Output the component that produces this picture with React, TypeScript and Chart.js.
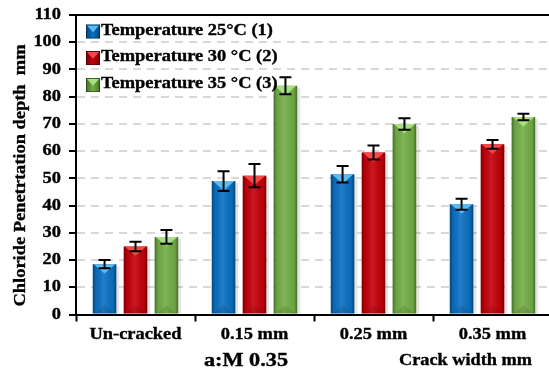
import React, { useEffect, useRef } from "react";
import { Chart, registerables } from "chart.js";

Chart.register(...registerables);

// ---- data ----
const categories = ["Un-cracked", "0.15 mm", "0.25 mm", "0.35 mm"];
const seriesLabels = ["Temperature 25°C (1)", "Temperature 30 °C (2)", "Temperature 35 °C (3)"];
const temp25 = [18.5, 49, 51.5, 40.5];
const temp30 = [25, 51, 59.5, 62.5];
const temp35 = [28.5, 84, 70, 72.5];
const err25 = [1.5, 3.6, 3, 2];
const err30 = [1.75, 4.3, 2.6, 1.6];
const err35 = [2.5, 3.1, 2.1, 1.2];
const yMin = 0;
const yMax = 110;
const yStep = 10;
const yAxisTitle = "Chloride Penetrtation depth  mm";
const xAxisNote = "a:M 0.35";
const xAxisTitle = "Crack width mm";

const baseColors = ["#0a70c2", "#c4000a", "#72ae46"];
const lightColors = ["#5cbcf2", "#f24a4a", "#a9df80"];
const darkColors = ["#05457a", "#7a0005", "#44702a"];
const errors = [err25, err30, err35];

const FONT = '"Liberation Serif"';

function drawText(
  ctx: CanvasRenderingContext2D,
  s: string,
  x: number,
  y: number,
  size: number,
  align: CanvasTextAlign,
  baseline: CanvasTextBaseline,
  sx: number,
  targetWidth?: number
) {
  ctx.save();
  ctx.font = `bold ${size}px ${FONT}`;
  ctx.fillStyle = "#000";
  ctx.strokeStyle = "#000";
  ctx.lineWidth = 0.35;
  ctx.textAlign = align;
  ctx.textBaseline = baseline;
  let scale = sx;
  if (targetWidth) {
    const w = ctx.measureText(s).width;
    scale = targetWidth / w;
  }
  ctx.translate(x, y);
  ctx.scale(scale, 1);
  ctx.fillText(s, 0, 0);
  ctx.strokeText(s, 0, 0);
  ctx.restore();
}

function drawPyramidBox(ctx: CanvasRenderingContext2D, x: number, y: number, w: number, h: number, i: number) {
  ctx.save();
  const g = ctx.createLinearGradient(x, 0, x + w, 0);
  g.addColorStop(0, darkColors[i]);
  g.addColorStop(0.5, baseColors[i]);
  g.addColorStop(1, darkColors[i]);
  ctx.fillStyle = g;
  ctx.fillRect(x, y, w, h);
  ctx.fillStyle = lightColors[i];
  ctx.beginPath();
  ctx.moveTo(x + 1, y + 1);
  ctx.lineTo(x + w - 1, y + 1);
  ctx.lineTo(x + w / 2, y + h * 0.55);
  ctx.closePath();
  ctx.fill();
  ctx.strokeStyle = "rgba(0,0,0,0.35)";
  ctx.lineWidth = 1;
  ctx.strokeRect(x + 0.5, y + 0.5, w - 1, h - 1);
  ctx.restore();
}

const decorPlugin = {
  id: "decor",
  afterDatasetsDraw(chart: any) {
    const ctx: CanvasRenderingContext2D = chart.ctx;
    const yScale = chart.scales.y;
    chart.data.datasets.forEach((ds: any, i: number) => {
      const meta = chart.getDatasetMeta(i);
      meta.data.forEach((el: any, j: number) => {
        const { x, y, base, width } = el.getProps(["x", "y", "base", "width"], true);
        const left = x - width / 2;
        const right = x + width / 2;
        ctx.save();
        ctx.fillStyle = "rgba(0,0,0,0.10)";
        ctx.fillRect(right, y + 2, 3, base - y - 2);
        const g = ctx.createLinearGradient(left, 0, right, 0);
        g.addColorStop(0, "rgba(0,0,0,0.38)");
        g.addColorStop(0.14, "rgba(0,0,0,0.06)");
        g.addColorStop(0.45, "rgba(255,255,255,0.10)");
        g.addColorStop(0.86, "rgba(0,0,0,0.06)");
        g.addColorStop(1, "rgba(0,0,0,0.38)");
        ctx.fillStyle = g;
        ctx.fillRect(left, y, width, base - y);
        ctx.fillStyle = lightColors[i];
        ctx.beginPath();
        ctx.moveTo(left + 1, y);
        ctx.lineTo(right - 1, y);
        ctx.lineTo(x, y + width * 0.4);
        ctx.closePath();
        ctx.fill();
        ctx.fillStyle = "rgba(0,0,0,0.10)";
        ctx.beginPath();
        ctx.moveTo(left + 2, base);
        ctx.lineTo(right - 2, base);
        ctx.lineTo(x, base - width * 0.35);
        ctx.closePath();
        ctx.fill();
        ctx.restore();

        const v = ds.data[j];
        const e = errors[i][j];
        const yt = yScale.getPixelForValue(v + e);
        const yb = yScale.getPixelForValue(v - e);
        ctx.save();
        ctx.strokeStyle = "#000";
        ctx.lineWidth = 2;
        ctx.beginPath();
        ctx.moveTo(x, yt);
        ctx.lineTo(x, yb);
        ctx.moveTo(x - 6, yt);
        ctx.lineTo(x + 6, yt);
        ctx.moveTo(x - 6, yb);
        ctx.lineTo(x + 6, yb);
        ctx.stroke();
        ctx.restore();
      });
    });
  },
  afterDraw(chart: any) {
    const ctx: CanvasRenderingContext2D = chart.ctx;
    const area = chart.chartArea;
    const yScale = chart.scales.y;
    const xScale = chart.scales.x;

    ctx.save();
    ctx.strokeStyle = "#000";
    ctx.lineWidth = 2;
    ctx.beginPath();
    const ty = Math.round(yScale.getPixelForValue(yMax));
    ctx.moveTo(area.left - 1, ty);
    ctx.lineTo(chart.width, ty);
    ctx.stroke();
    ctx.restore();

    yScale.ticks.forEach((t: any) => {
      const py = yScale.getPixelForValue(t.value);
      drawText(ctx, String(t.value), 61, py, 16, "right", "middle", 1.15);
    });

    categories.forEach((c, k) => {
      const px = xScale.getPixelForValue(k);
      drawText(ctx, c, px, 338.5, 16, "center", "alphabetic", 1.15);
    });

    drawText(ctx, xAxisNote, 246, 366, 19, "center", "alphabetic", 1, 84);
    drawText(ctx, xAxisTitle, 465.5, 364.5, 17, "center", "alphabetic", 1, 133);

    ctx.save();
    ctx.translate(25, 175.5);
    ctx.rotate(-Math.PI / 2);
    ctx.font = `bold 17px ${FONT}`;
    const w = ctx.measureText(yAxisTitle).width;
    ctx.scale(262 / w, 1);
    ctx.fillStyle = "#000";
    ctx.strokeStyle = "#000";
    ctx.lineWidth = 0.35;
    ctx.textAlign = "center";
    ctx.textBaseline = "alphabetic";
    ctx.fillText(yAxisTitle, 0, 0);
    ctx.strokeText(yAxisTitle, 0, 0);
    ctx.restore();

    const rows = [34.5, 61, 88];
    chart.data.datasets.forEach((ds: any, i: number) => {
      drawPyramidBox(ctx, 86, rows[i] - 10, 14, 14, i);
      drawText(ctx, ds.label, 101, rows[i], 16, "left", "alphabetic", 1.15);
    });
  },
};

export default function App() {
  const ref = useRef<HTMLCanvasElement | null>(null);

  useEffect(() => {
    let chart: Chart | null = null;
    let cancelled = false;
    const make = () => {
      if (cancelled || !ref.current) return;
      chart = new Chart(ref.current, {
        type: "bar",
        data: {
          labels: categories,
          datasets: [
            { label: seriesLabels[0], data: temp25, backgroundColor: baseColors[0] },
            { label: seriesLabels[1], data: temp30, backgroundColor: baseColors[1] },
            { label: seriesLabels[2], data: temp35, backgroundColor: baseColors[2] },
          ],
        },
        options: {
          responsive: false,
          animation: false,
          devicePixelRatio: 1,
          layout: { padding: { left: 0, right: 8, top: 15, bottom: 0 } },
          datasets: { bar: { categoryPercentage: 0.78, barPercentage: 0.76, borderWidth: 0 } },
          plugins: {
            legend: { display: false },
            tooltip: { enabled: false },
            title: { display: false },
          },
          scales: {
            x: {
              type: "category",
              offset: true,
              grid: {
                display: true,
                offset: true,
                drawOnChartArea: false,
                drawTicks: true,
                tickLength: 7,
                tickColor: "#000",
                tickWidth: 2,
              },
              border: { display: true, color: "#000", width: 2 },
              ticks: { display: false },
              afterFit: (s: any) => {
                s.height = 57.5;
              },
            },
            y: {
              min: yMin,
              max: yMax,
              ticks: { display: false, stepSize: yStep },
              grid: {
                display: true,
                drawOnChartArea: true,
                color: (c: any) =>
                  c.tick && (c.tick.value === yMin || c.tick.value === yMax) ? "rgba(0,0,0,0)" : "#d9d9d9",
                lineWidth: 2,
                drawTicks: true,
                tickLength: 7,
                tickColor: "#000",
                tickWidth: 2,
              },
              border: { display: true, color: "#000", width: 2, dash: [8, 6] },
              afterFit: (s: any) => {
                s.width = 76;
              },
            },
          },
        } as any,
        plugins: [decorPlugin],
      });
    };
    const fonts: any = (document as any).fonts;
    if (fonts && fonts.load) {
      fonts
        .load(`bold 16px "Liberation Serif"`)
        .catch(() => null)
        .then(() => make());
    } else {
      make();
    }
    return () => {
      cancelled = true;
      if (chart) chart.destroy();
    };
  }, []);

  return (
    <div style={{ position: "absolute", left: 0, top: 0, width: 549, height: 372, overflow: "hidden", background: "#fff" }}>
      <canvas ref={ref} width={560} height={372} style={{ display: "block", width: 560, height: 372 }} />
    </div>
  );
}
